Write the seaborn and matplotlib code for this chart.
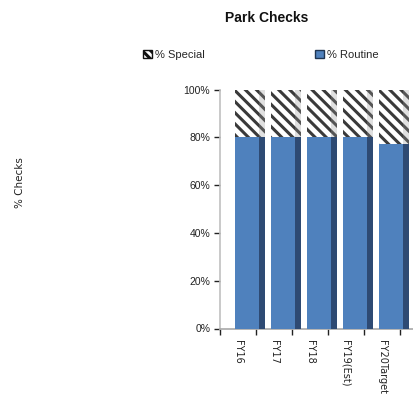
import matplotlib
matplotlib.use("Agg")
import matplotlib.pyplot as plt
from matplotlib.patches import Patch
import seaborn as sns
import pandas as pd

# Share of park checks by type, per fiscal year
categories = ["FY16", "FY17", "FY18", "FY19(Est)", "FY20Target"]
routine = [80, 80, 80, 80, 77]
special = [20, 20, 20, 20, 23]

sns.set_theme(style="white")
narrow = ["Liberation Sans", "DejaVu Sans"]
plt.rcParams["font.family"] = ["DejaVu Sans"]
plt.rcParams["hatch.linewidth"] = 2.2

df = pd.DataFrame({
    "year": categories,
    "routine": routine,
    "total": [r + s for r, s in zip(routine, special)],
})

fig = plt.figure(figsize=(4.13, 3.97), dpi=100)
ax = fig.add_axes([220 / 413, 1 - 328.5 / 397, 193 / 413, (328.5 - 89.5) / 397])

blue = "#4F81BD"
side = "#2E4A73"
bar_w = 30 / 36
shift = 12 / 36

# Full-height hatched bar (special share shows above the routine part)
sns.barplot(data=df, x="year", y="total", ax=ax, width=bar_w,
            color="white", edgecolor="#3a3a3a", linewidth=0, hatch="\\\\\\",
            saturation=1, zorder=2)
# Routine share
sns.barplot(data=df, x="year", y="routine", ax=ax, width=bar_w,
            color=blue, linewidth=0, saturation=1, zorder=3)
n_routine = len(ax.patches)
# Shaded side face of each routine bar
sns.barplot(data=df, x="year", y="routine", ax=ax, width=6 / 36,
            color=side, linewidth=0, saturation=1, zorder=4)
# Light side face on the hatched section
sns.barplot(data=df, x="year", y="total", ax=ax, width=6 / 36,
            color="#9a9a9a", alpha=0.3, linewidth=0, saturation=1, zorder=2.5)

for i, p in enumerate(ax.patches):
    if i < n_routine:
        p.set_x(p.get_x() + shift)
    else:
        # side faces sit on the right edge of each bar
        center = p.get_x() + p.get_width() / 2
        p.set_x(center + shift + bar_w / 2 - 6 / 36)

ax.set_xlim(-0.5, 4.5 + 13 / 36)
ax.set_ylim(0, 100)

# Category boundaries as tick marks, labels centred in each slot
ax.set_xticks([i - 0.5 for i in range(len(categories) + 1)])
ax.set_xticklabels([])
ax.set_xticks(range(len(categories)), minor=True)
ax.set_xticklabels(categories, minor=True, rotation=-90, fontsize=7,
                   va="top", ha="center", color="#222222")
ax.tick_params(axis="x", which="major", direction="out", length=4.5,
               width=1, color="#222222", bottom=True)
ax.tick_params(axis="x", which="minor", length=0, pad=8)

ax.set_yticks(range(0, 101, 20))
ax.set_yticklabels([f"{v}%" for v in range(0, 101, 20)], fontsize=7.5,
                   family=narrow, color="#222222")
ax.tick_params(axis="y", direction="out", length=4, width=1,
               color="#222222", left=True, pad=3)

ax.set_xlabel("")
ax.set_ylabel("")
for s in ["top", "right"]:
    ax.spines[s].set_visible(False)
ax.spines["left"].set_color("#c0c0c0")
ax.spines["bottom"].set_color("#a8a8a8")
ax.spines["left"].set_linewidth(1.2)
ax.spines["bottom"].set_linewidth(1.2)

fig.text(267 / 413, 1 - 18 / 397, "Park Checks", ha="center", va="center",
         fontsize=10, fontweight="bold", family=narrow, color="#111111")
fig.text(20 / 413, 1 - 183 / 397, "% Checks", rotation=90, ha="center",
         va="center", fontsize=7.5, color="#222222")

handles = [
    Patch(facecolor="white", edgecolor="#111111", hatch="\\\\\\\\", linewidth=1),
    Patch(facecolor=blue, edgecolor="#1f3552", linewidth=1),
]
fig.legend(handles, ["% Special", "% Routine"], ncol=2, frameon=False,
           loc="center", bbox_to_anchor=(261 / 413, 1 - 55 / 397),
           handlelength=0.8, handleheight=0.8, handletextpad=0.3,
           columnspacing=9.9, prop={"family": narrow, "size": 8})

fig.savefig("out.png", dpi=100, facecolor="white")
